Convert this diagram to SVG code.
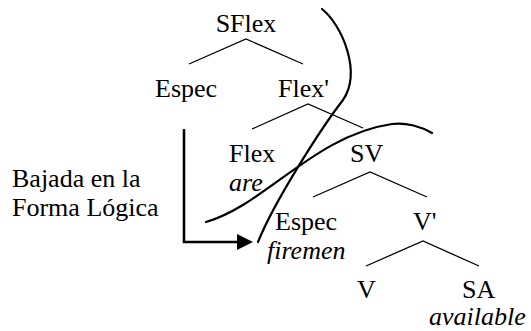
<svg xmlns="http://www.w3.org/2000/svg" width="531" height="331" viewBox="0 0 531 331">
<style>
text{font-family:'Liberation Serif','Times New Roman',Times,'DejaVu Serif',serif;font-size:26px;fill:#000}
.it{font-style:italic}
.br{stroke:#000;stroke-width:1.3;fill:none}
.cv{stroke:#000;stroke-width:2.2;fill:none;stroke-linecap:round}
.ar{stroke:#000;stroke-width:2.6;fill:none}
</style>
<defs>
<marker id="ah" viewBox="0 0 16 16" refX="0" refY="8" markerWidth="16" markerHeight="16" markerUnits="userSpaceOnUse" orient="auto">
<path d="M0,0 L16,8 L0,16 Z" fill="#000"/>
</marker>
</defs>
<rect width="531" height="331" fill="#fff"/>
<g id="connectors">
<polyline class="br" points="189,64 246,39 303,64"/>
<polyline class="br" points="252,129 308,104 363,128"/>
<polyline class="br" points="313,197 370,172 427,197"/>
<polyline class="br" points="366,266 423,241 479,266"/>
<path class="cv" d="M322,9 C342,25 362,72 343,100 C322,127 275,200 258,242"/>
<path class="cv" d="M206,222 C265,205 315,135 392,124 C406,122 422,127 432,133"/>
<path class="ar" d="M184,129 V242 H237" marker-end="url(#ah)"/>
</g>
<g id="n-sflex"><text x="246" y="32" text-anchor="middle">SFlex</text></g>
<g id="n-espec1"><text x="155" y="97">Espec</text></g>
<g id="n-flexbar"><text x="278" y="97">Flex'</text></g>
<g id="n-flex"><text x="229" y="162">Flex</text><text class="it" x="229" y="191">are</text></g>
<g id="n-sv"><text x="350" y="162">SV</text></g>
<g id="n-espec2"><text x="275" y="230">Espec</text><text class="it" x="267" y="259">firemen</text></g>
<g id="n-vbar"><text x="413" y="230">V'</text></g>
<g id="n-v"><text x="357" y="298">V</text></g>
<g id="n-sa"><text x="462" y="298">SA</text><text class="it" x="429" y="325">available</text></g>
<g id="label"><text x="12" y="187">Bajada en la</text><text x="12" y="216">Forma Lógica</text></g>
</svg>
